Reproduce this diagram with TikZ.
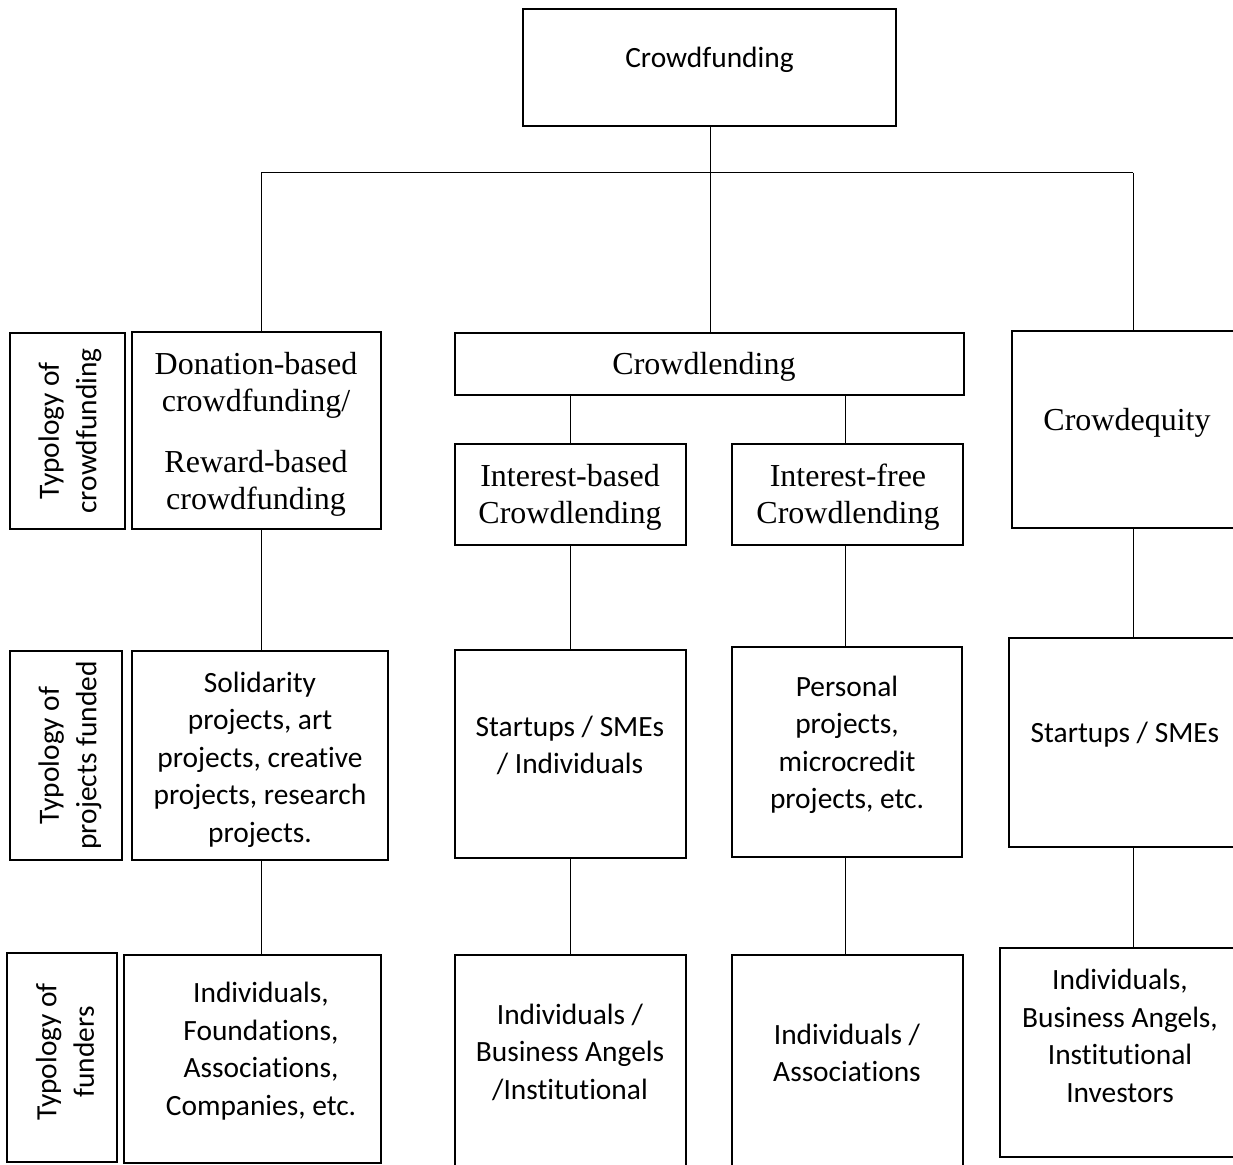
\documentclass[tikz,border=0pt]{standalone}
\usepackage{fontspec}
\setmainfont{Liberation Serif}
\newfontfamily\calfont[Ligatures={NoCommon}]{Carlito}
\begin{document}
\begin{tikzpicture}[x=0.5pt,y=-0.5pt,
  thickbox/.style={draw,line width=1.2pt,inner sep=0pt},
  thinbox/.style={draw,line width=0.6pt,inner sep=0pt},
  conn/.style={line width=0.5pt},
  sanstxt/.style={font=\calfont\fontsize{14.7}{18.75}\selectfont,align=center,inner sep=0pt},
  seriftxt/.style={font=\fontsize{16}{18.5}\selectfont,align=center,inner sep=0pt},
  sidetxt/.style={font=\calfont\fontsize{14.7}{18.75}\selectfont,align=center,inner sep=0pt,rotate=90}]
\clip (0,0) rectangle (1233,1165);
% boxes
\node[thickbox,minimum width=373*0.5pt,minimum height=117*0.5pt] (cf) at (709.5,67.5) {};
\node[thinbox,minimum width=115*0.5pt,minimum height=196*0.5pt] (l1) at (67.5,431) {};
\node[thickbox,minimum width=249*0.5pt,minimum height=197*0.5pt] (don) at (256.5,430.5) {};
\node[thickbox,minimum width=509*0.5pt,minimum height=62*0.5pt] (cl) at (709.5,364) {};
\node[thickbox,minimum width=231*0.5pt,minimum height=101*0.5pt] (ib) at (570.5,494.5) {};
\node[thickbox,minimum width=231*0.5pt,minimum height=101*0.5pt] (if) at (847.5,494.5) {};
\node[thickbox,minimum width=233*0.5pt,minimum height=197*0.5pt] (ce) at (1128.5,429.5) {};
\node[thinbox,minimum width=112*0.5pt,minimum height=209*0.5pt] (l2) at (66,755.5) {};
\node[thickbox,minimum width=256*0.5pt,minimum height=209*0.5pt] (sol) at (260,755.5) {};
\node[thickbox,minimum width=231*0.5pt,minimum height=208*0.5pt] (ss) at (570.5,754) {};
\node[thickbox,minimum width=230*0.5pt,minimum height=210*0.5pt] (pp) at (847,752) {};
\node[thickbox,minimum width=236*0.5pt,minimum height=209*0.5pt] (ss2) at (1127,742.5) {};
\node[thinbox,minimum width=110*0.5pt,minimum height=209*0.5pt] (l3) at (62,1057.5) {};
\node[thickbox,minimum width=257*0.5pt,minimum height=208*0.5pt] (ind1) at (252.5,1059) {};
\node[thickbox,minimum width=231*0.5pt,minimum height=220*0.5pt] (ind2) at (570.5,1065) {};
\node[thickbox,minimum width=231*0.5pt,minimum height=220*0.5pt] (ind3) at (847.5,1065) {};
\node[thickbox,minimum width=245*0.5pt,minimum height=209*0.5pt] (ind4) at (1122.5,1052.5) {};
% texts
\node[sanstxt] (cf-t) at (709.5,60) {Crowdfunding};
\node[sidetxt] (l1-t) at (70,431) {Typology of\\crowdfunding};
\node[sidetxt] (l2-t) at (70,755.5) {Typology of\\projects funded};
\node[sidetxt] (l3-t) at (65,1052) {Typology of\\funders};
\node[seriftxt] (don-t) at (256,434) {Donation-based\\crowdfunding/\\[12pt]Reward-based\\crowdfunding};
\node[seriftxt] (cl-t) at (704,367) {Crowdlending};
\node[seriftxt] (ib-t) at (570,497.5) {Interest-based\\Crowdlending};
\node[seriftxt] (if-t) at (848,497.5) {Interest-free\\Crowdlending};
\node[seriftxt] (ce-t) at (1127,423) {Crowdequity};
\node[sanstxt] (sol-t) at (260,759.5) {Solidarity\\projects, art\\projects, creative\\projects, research\\projects.};
\node[sanstxt] (ss-t) at (570,745.5) {Startups / SMEs\\/ Individuals};
\node[sanstxt] (pp-t) at (847,745) {Personal\\projects,\\microcredit\\projects, etc.};
\node[sanstxt] (ss2-t) at (1125,734.5) {Startups / SMEs};
\node[sanstxt] (ind1-t) at (261,1051) {Individuals,\\Foundations,\\Associations,\\Companies, etc.};
\node[sanstxt] (ind2-t) at (570,1052) {Individuals /\\Business Angels\\/Institutional};
\node[sanstxt] (ind3-t) at (847,1053) {Individuals /\\Associations};
\node[sanstxt] (ind4-t) at (1120,1036) {Individuals,\\Business Angels,\\Institutional\\Investors};
% connectors
\coordinate (j) at (710,173);
\coordinate (bl) at (261,173);
\coordinate (br) at (1133,173);
\draw[conn] (cf.south -| j) -- (j);
\draw[conn] (bl) -- (br);
\draw[conn] (bl) -- (bl |- don.north);
\draw[conn] (j) -- (j |- cl.north);
\draw[conn] (br) -- (br |- ce.north);
\draw[conn] (ib.north) -- (ib.north |- cl.south);
\draw[conn] ([xshift=-1pt]if.north) -- ([xshift=-1pt]if.north |- cl.south);
\draw[conn] (bl |- don.south) -- (bl |- sol.north);
\draw[conn] (bl |- sol.south) -- (bl |- ind1.north);
\draw[conn] (ib.south) -- (ss.north);
\draw[conn] (ss.south) -- (ind2.north);
\draw[conn] ([xshift=-1pt]if.south) -- ([xshift=-1pt]if.south |- pp.north);
\draw[conn] ([xshift=-1pt]pp.south) -- ([xshift=-1pt]pp.south |- ind3.north);
\draw[conn] (br |- ce.south) -- (br |- ss2.north);
\draw[conn] (br |- ss2.south) -- (br |- ind4.north);
\end{tikzpicture}
\end{document}
